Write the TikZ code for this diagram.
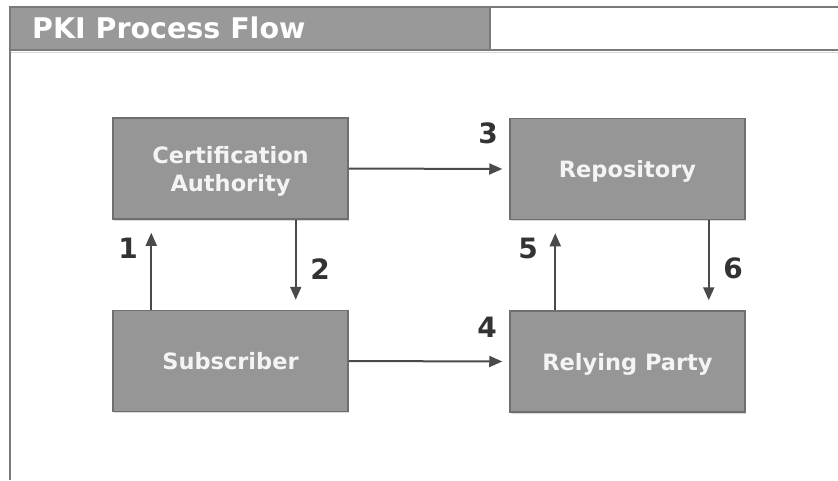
\documentclass[tikz,border=0pt]{standalone}
\usepackage{fontspec}
\setmainfont{DejaVu Sans}
\usetikzlibrary{arrows.meta,shadows}

\definecolor{boxfill}{HTML}{969696}
\definecolor{boxline}{HTML}{6F6F6F}
\definecolor{hdrfill}{HTML}{999999}
\definecolor{frameline}{HTML}{7A7A7A}
\definecolor{arrowcol}{HTML}{4A4A4A}
\definecolor{numcol}{HTML}{333333}
\definecolor{boxtext}{HTML}{F4F4F4}

\tikzset{
  stagebox/.style={draw=boxline, line width=1.5pt, fill=boxfill,
    minimum width=235pt, minimum height=101pt, inner sep=0pt,
    align=center, text=boxtext, text height=17pt, text depth=0pt,
    font=\fontsize{22.5}{28}\selectfont\bfseries,
    drop shadow={shadow xshift=1pt, shadow yshift=-1.5pt, fill=black!30, opacity=0.5}},
  flow/.style={draw=arrowcol, line width=2pt,
    -{Triangle[length=13pt,width=11pt]}},
  stepnum/.style={text=numcol, inner sep=0pt,
    font=\fontsize{28}{28}\selectfont\bfseries},
}

\begin{document}
\begin{tikzpicture}[x=1pt,y=-1pt]
  \useasboundingbox (0,0) rectangle (838,480);
  \fill[white] (0,0) rectangle (838,480);

  % header strip and frame
  \fill[hdrfill] (10,7) rectangle (490,50);
  \draw[frameline, line width=1.5pt] (490,7) -- (490,50);
  \draw[frameline, line width=1.5pt] (10,480) -- (10,7) -- (838,7);
  \draw[frameline, line width=1.5pt] (10,50) -- (838,50);
  \draw[black!15, line width=1pt] (11,52) -- (838,52);
  \node[anchor=base west, text=white, inner sep=0pt,
        font=\fontsize{28.5}{30}\selectfont\bfseries] (title) at (32,38) {PKI Process Flow};

  % parties (the two-line label counts both lines in its height)
  \node[stagebox, text height=45pt] (ca) at (230.5,168.5) {Certification\\Authority};
  \node[stagebox] (repo) at (627.5,169)   {Repository};
  \node[stagebox] (sub)  at (230.5,361)   {Subscriber};
  \node[stagebox] (rp)   at (627.5,361.5) {Relying Party};

  % flows
  \draw[flow] ([xshift=39pt]sub.north west) -- ([xshift=39pt,yshift=-13pt]ca.south west);
  \draw[flow] ([xshift=-53pt]ca.south east) -- ([xshift=-53pt,yshift=10pt]sub.north east);
  \draw[flow] (ca.east) -- ([xshift=-7pt]repo.west);
  \draw[flow] (sub.east) -- ([xshift=-7pt]rp.west);
  \draw[flow] ([xshift=46pt]rp.north west) -- ([xshift=46pt,yshift=-13pt]repo.south west);
  \draw[flow] ([xshift=-37pt]repo.south east) -- ([xshift=-37pt,yshift=10pt]rp.north east);

  % step numbers
  \node[stepnum] (n1) at (128,248) {1};
  \node[stepnum] (n2) at (320,269) {2};
  \node[stepnum] (n3) at (488,133) {3};
  \node[stepnum] (n4) at (487,327) {4};
  \node[stepnum] (n5) at (528,248) {5};
  \node[stepnum] (n6) at (733,268) {6};
\end{tikzpicture}
\end{document}
